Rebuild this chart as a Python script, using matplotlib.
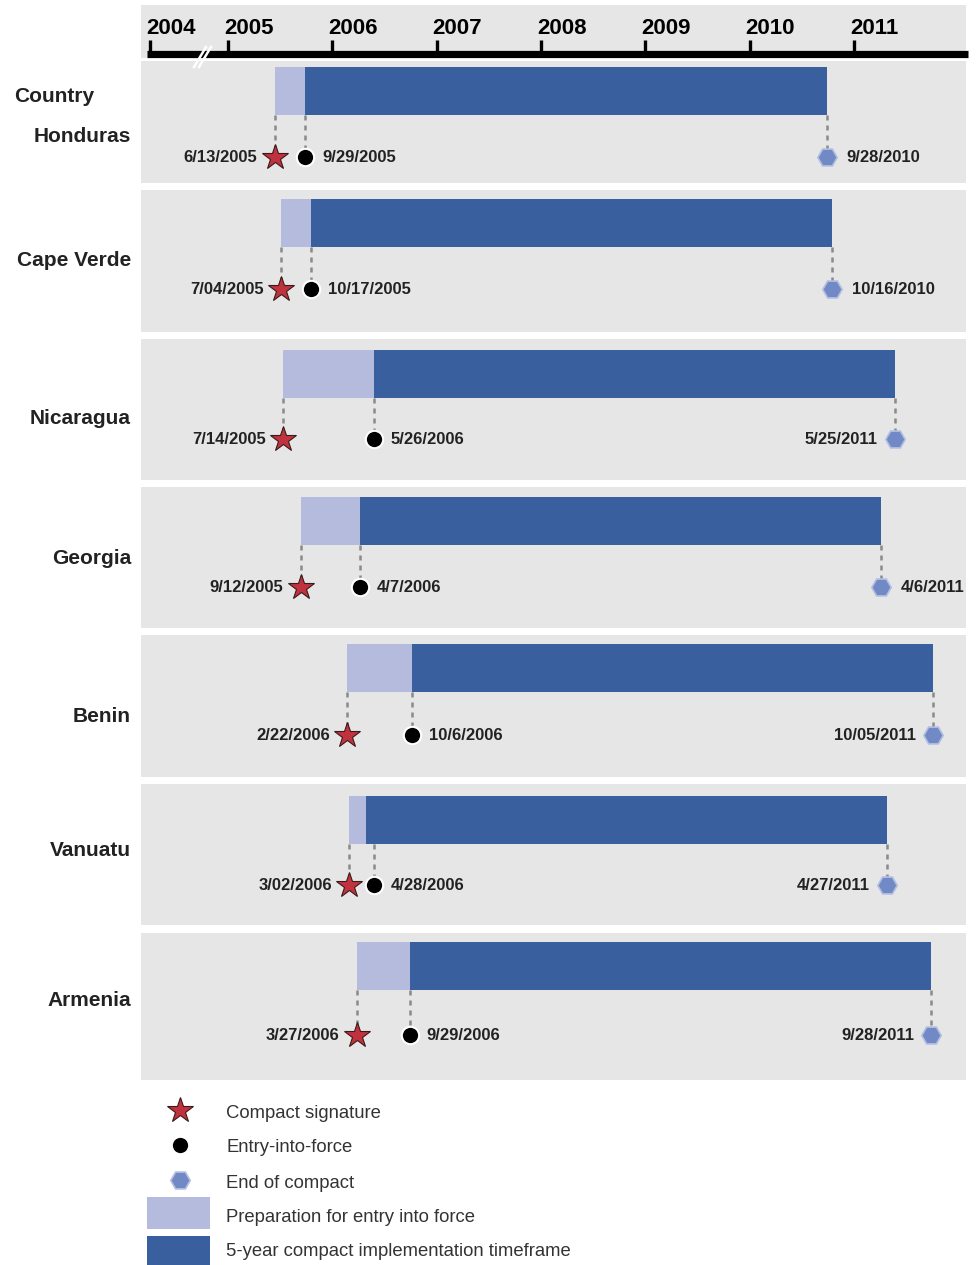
import datetime as dt
import matplotlib
matplotlib.use("Agg")
import matplotlib.pyplot as plt
from matplotlib.patches import Rectangle
import matplotlib.transforms as mtransforms

# ---------------- data ----------------
countries = ["Honduras", "Cape Verde", "Nicaragua", "Georgia", "Benin", "Vanuatu", "Armenia"]
signature = ["6/13/2005", "7/04/2005", "7/14/2005", "9/12/2005", "2/22/2006", "3/02/2006", "3/27/2006"]
entry_into_force = ["9/29/2005", "10/17/2005", "5/26/2006", "4/7/2006", "10/6/2006", "4/28/2006", "9/29/2006"]
end_of_compact = ["9/28/2010", "10/16/2010", "5/25/2011", "4/6/2011", "10/05/2011", "4/27/2011", "9/28/2011"]
year_ticks = [2005, 2006, 2007, 2008, 2009, 2010, 2011]
broken_year_label = "2004"
legend_labels = ["Compact signature", "Entry-into-force", "End of compact",
                 "Preparation for entry into force", "5-year compact implementation timeframe"]


def to_year(s):
    m, d, y = (int(v) for v in s.split("/"))
    t = dt.date(y, m, d)
    return y + (t.timetuple().tm_yday - 1) / 365.0


sig = [to_year(s) for s in signature]
eif = [to_year(s) for s in entry_into_force]
end = [to_year(s) for s in end_of_compact]

# ---------------- layout ----------------
W, H = 978, 1265
PX_2005, PX_PER_YEAR = 228, 104.3
X0 = 2005 - PX_2005 / PX_PER_YEAR
X1 = 2005 + (W - PX_2005) / PX_PER_YEAR


def px2x(px):
    return X0 + px / PX_PER_YEAR


panel_top = [61, 190, 339, 487, 635, 784, 933]
panel_bot = [183, 332, 480, 628, 777, 925, 1080]
bar_top = [67, 199, 350, 497, 644, 796, 942]
bar_h = 48
marker_y = [157, 289, 439, 587, 735, 885, 1035]
label_y = [137, 261, 418, 558, 717, 851, 1000]
end_side = ["right", "right", "left", "right", "left", "left", "left"]
eif_shift_px = [0, 0, 0, 0, 0, 8, 0]

GRAY = "#e6e6e6"
LIGHT = "#b5bbdd"
DARK = "#395f9e"
STAR = "#c1323f"
HEX = "#7189c5"
HEX_EDGE = "#b3bfe2"
TXT = "#222222"

plt.rcParams["font.family"] = ["Liberation Sans", "DejaVu Sans"]

fig = plt.figure(figsize=(W / 100, H / 100), dpi=100)
ax = fig.add_axes([0, 0, 1, 1])
ax.set_xlim(X0, X1)
ax.set_ylim(H, 0)
ax.axis("off")

blend = mtransforms.blended_transform_factory(ax.transAxes, ax.transData)

# header panel
ax.add_patch(Rectangle((141 / W, 5), (966 - 141) / W, 53, transform=blend,
                       facecolor=GRAY, edgecolor="none", zorder=0))
# row panels
for t, b in zip(panel_top, panel_bot):
    ax.add_patch(Rectangle((141 / W, t), (966 - 141) / W, b - t, transform=blend,
                           facecolor=GRAY, edgecolor="none", zorder=0))

# time axis
ax.plot([px2x(147), px2x(968)], [54, 54], color="black", lw=5.2,
        solid_capstyle="butt", zorder=3)
tick_pos = [px2x(150)] + list(year_ticks)
tick_lab = [broken_year_label] + [str(y) for y in year_ticks]
for xp, lab in zip(tick_pos, tick_lab):
    ax.plot([xp, xp], [40, 54], color="black", lw=2.4, solid_capstyle="butt", zorder=3)
    ax.text(xp - 4 / PX_PER_YEAR, 29, lab, ha="left", va="center",
            fontsize=16, fontweight="bold", color="black", zorder=4)
# axis break
for dx in (0, 5):
    ax.plot([px2x(194 + dx), px2x(206 + dx)], [67, 47], color="white", lw=1.8, zorder=5)

ax.text(px2x(14), 96, "Country", ha="left", va="center", fontsize=15,
        fontweight="bold", color=TXT)

for i, c in enumerate(countries):
    yc = bar_top[i] + bar_h / 2
    ax.barh(yc, eif[i] - sig[i], left=sig[i], height=bar_h, color=LIGHT,
            edgecolor="none", zorder=2)
    ax.barh(yc, end[i] - eif[i], left=eif[i], height=bar_h, color=DARK,
            edgecolor="none", zorder=2)
    bb = bar_top[i] + bar_h
    my = marker_y[i]
    xe = eif[i] + eif_shift_px[i] / PX_PER_YEAR
    for xv in (sig[i], xe, end[i]):
        ax.plot([xv, xv], [bb, my - 8], color="#8a8a8a", lw=1.8,
                linestyle=(0, (2, 2)), zorder=2)
    ax.plot(sig[i], my, marker="*", ms=19, mfc=STAR, mec="#3a1a1a", mew=0.8, zorder=4)
    ax.plot(xe, my, marker="o", ms=12.5, mfc="black", mec="white", mew=1.5, zorder=4)
    ax.plot(end[i], my, marker="H", ms=14, mfc=HEX, mec=HEX_EDGE, mew=1.2, zorder=4)

    ax.text(sig[i] - 17 / PX_PER_YEAR, my + 1, signature[i], ha="right", va="center",
            fontsize=12, fontweight="bold", color=TXT)
    ax.text(xe + 17 / PX_PER_YEAR, my + 1, entry_into_force[i], ha="left", va="center",
            fontsize=12, fontweight="bold", color=TXT)
    if end_side[i] == "right":
        ax.text(end[i] + 20 / PX_PER_YEAR, my + 1, end_of_compact[i], ha="left", va="center",
                fontsize=12, fontweight="bold", color=TXT)
    else:
        ax.text(end[i] - 17 / PX_PER_YEAR, my + 1, end_of_compact[i], ha="right", va="center",
                fontsize=12, fontweight="bold", color=TXT)

    ax.text(px2x(131), label_y[i], c, ha="right", va="center", fontsize=15,
            fontweight="bold", color=TXT)

# legend
lx = px2x(180)
ax.plot(lx, 1110, marker="*", ms=19, mfc=STAR, mec="#3a1a1a", mew=0.8)
ax.plot(lx, 1145, marker="o", ms=12.5, mfc="black", mec="white", mew=1.5)
ax.plot(lx, 1180, marker="H", ms=14, mfc=HEX, mec=HEX_EDGE, mew=1.2)
ax.add_patch(Rectangle((px2x(147), 1197), 63 / PX_PER_YEAR, 32, facecolor=LIGHT,
                       edgecolor="none"))
ax.add_patch(Rectangle((px2x(147), 1236), 63 / PX_PER_YEAR, 30, facecolor=DARK,
                       edgecolor="none"))
for lab, yy in zip(legend_labels, [1113, 1148, 1183, 1217, 1252]):
    ax.text(px2x(226), yy, lab, ha="left", va="center", fontsize=13.3, color="#333333")

fig.savefig("out.png", dpi=100)
